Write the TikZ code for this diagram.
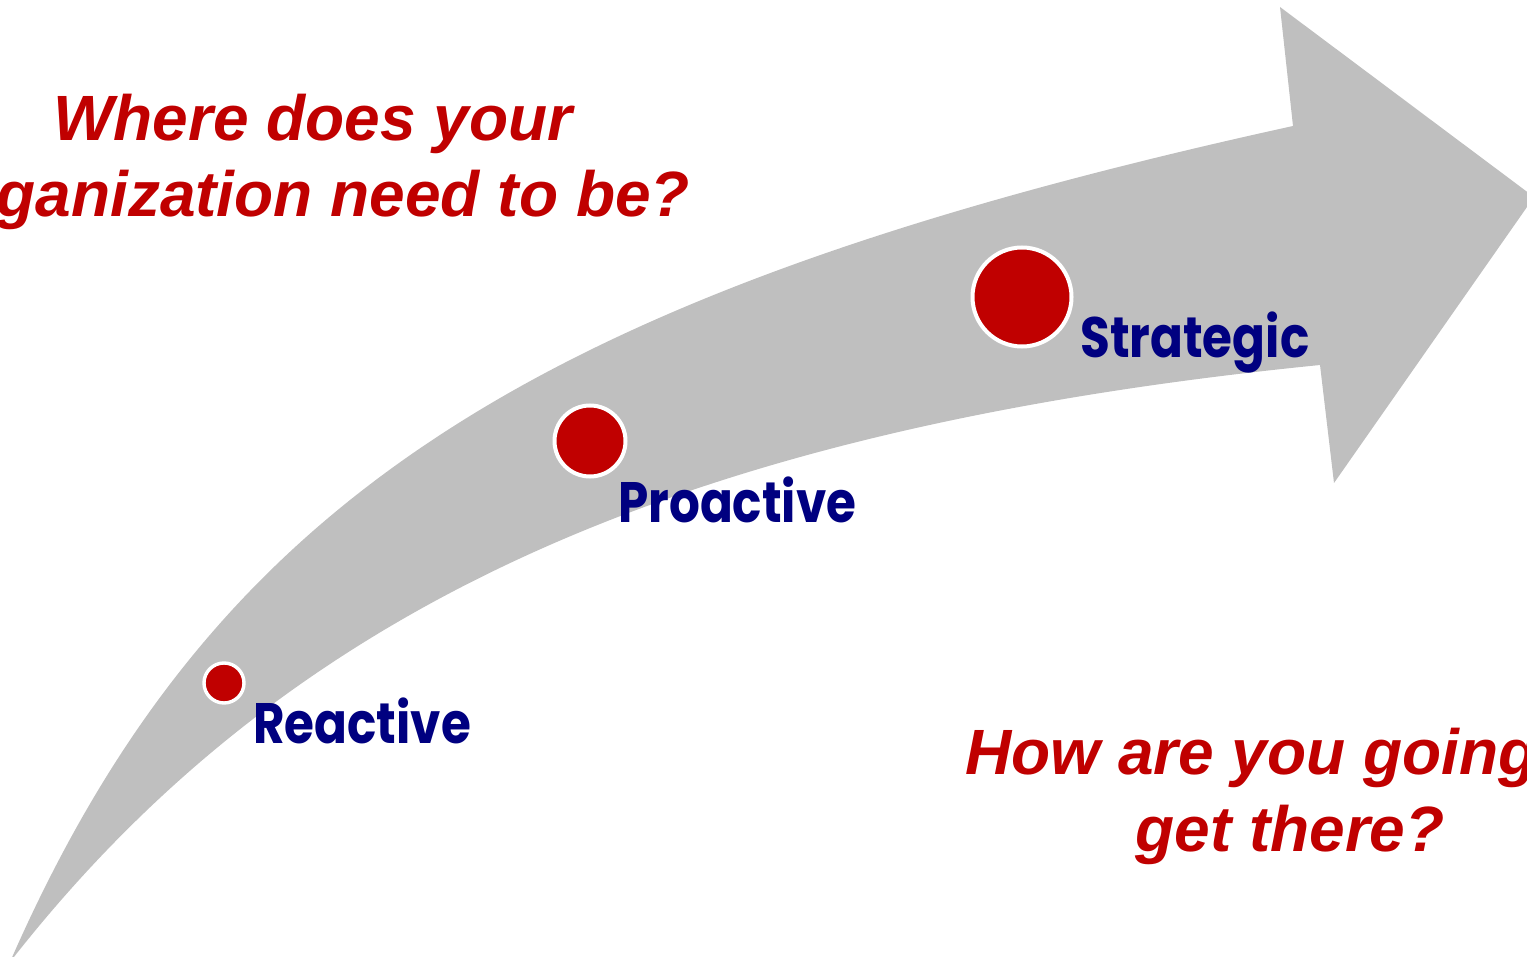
\documentclass[tikz,border=0pt]{standalone}
\usepackage{fontspec}
\setmainfont{Liberation Sans}
\newfontfamily\stagefont[FakeStretch = 0.85]{Poppins}
\definecolor{askred}{HTML}{C00000}
\definecolor{stagenavy}{HTML}{000080}
\definecolor{arrowgray}{HTML}{BFBFBF}

\begin{document}
\begin{tikzpicture}[x = 1pt, y = -1pt,
    stage/.style = {shape = circle, draw = white, fill = askred, line width = 4pt, inner sep = 0pt},
    stagename/.style = {anchor = base west, inner sep = 0pt, text = stagenavy,
        font = \stagefont\bfseries\fontsize{57}{57}\selectfont},
    question/.style = {inner sep = 0pt, text = askred,
        font = \bfseries\itshape\fontsize{64}{76}\selectfont}]
    \useasboundingbox (0,0) rectangle (1527,957);
    \clip (0,0) rectangle (1527,957);
    \fill[arrowgray] (10,962) .. controls (212,501) and (532,293) .. (1293,126)
        -- (1280,7) -- (1534,197) -- (1334,483) -- (1320,365)
        .. controls (681,429) and (288,606) .. (10,962) -- cycle;
    \node[stage, minimum size = 40pt, line width = 3.4pt] (reactive) at (224,683) {};
    \node[stage, minimum size = 71pt] (proactive) at (590,441) {};
    \node[stage, minimum size = 99pt] (strategic) at (1022,297) {};
    \node[stagename] (reactivename) at (253,743) {Reactive};
    \node[stagename] (proactivename) at (618,522) {Proactive};
    \node[stagename] (strategicname) at (1080,358) {Strategic};
    \node[question, anchor = base] (where1) at (313,141) {Where does your};
    \node[question, anchor = base east] (where2) at (690,217) {ganization need to be?};
    \node[question, anchor = base west] (how1) at (965,774) {How are you going};
    \node[question, anchor = base] (how2) at (1290,851) {get there?};
\end{tikzpicture}
\end{document}
